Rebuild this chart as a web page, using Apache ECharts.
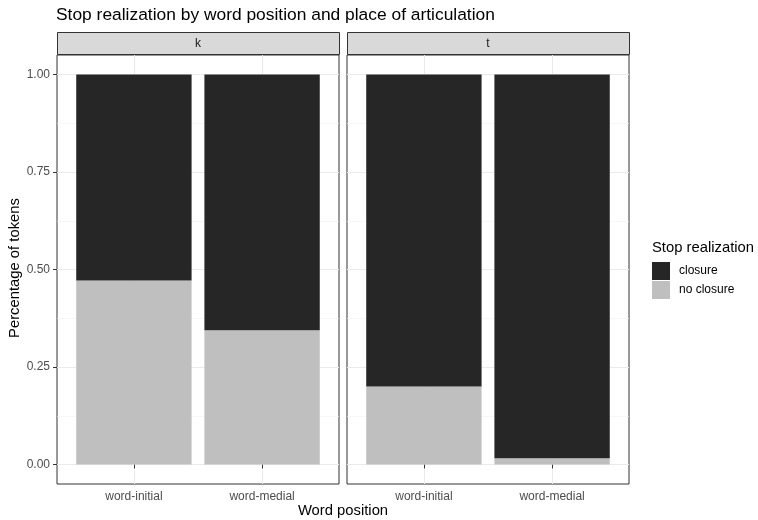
<!DOCTYPE html>
<html>
<head>
<meta charset="utf-8">
<script src="https://cdn.jsdelivr.net/npm/echarts@6/dist/echarts.min.js"></script>
<style>html,body{margin:0;padding:0;background:#fff}#c{width:758px;height:520px}</style>
</head>
<body>
<div id="c"></div>
<script>
var panels = ['k', 't'];
var categories = ['word-initial', 'word-medial'];
var noClosure = [[0.472, 0.344], [0.200, 0.016]];
var closure = [[0.528, 0.656], [0.800, 0.984]];
var yTicks = [0, 0.25, 0.5, 0.75, 1];
var yTickLabels = ['0.00', '0.25', '0.50', '0.75', '1.00'];
var yMinor = [0.125, 0.375, 0.625, 0.875];
var seriesNames = ['closure', 'no closure'];
var colors = {'closure': '#262626', 'no closure': '#BFBFBF'};

(function () {
var FONT = 'Liberation Sans, Arial, sans-serif';
var chart = echarts.init(document.getElementById('c'), null, {renderer: 'canvas'});

var panelLefts = [57, 347];
var panelWidth = 282;
var gTop = 55, gBottom = 36;

var grids = [], xAxes = [], yAxes = [], series = [], graphics = [];
panels.forEach(function (p, i) {
  grids.push({left: panelLefts[i], width: panelWidth, top: gTop, bottom: gBottom,
    show: true, borderColor: '#333333', borderWidth: 1, backgroundColor: '#fff', containLabel: false});
  xAxes.push({type: 'value', gridIndex: i, min: 0.4, max: 2.6,
    axisLine: {show: false},
    axisTick: {show: true, length: 4, lineStyle: {color: '#333333', width: 1}, customValues: [1, 2]},
    axisLabel: {show: true, customValues: [1, 2], color: '#4D4D4D', fontSize: 12, fontFamily: FONT, margin: 7,
      formatter: function (v) { return categories[Math.round(v) - 1] || ''; }},
    splitLine: {show: true, lineStyle: {color: '#EBEBEB', width: 1}}
  });
  yAxes.push({type: 'value', gridIndex: i, min: -0.05, max: 1.05,
    axisLine: {show: false},
    axisTick: {show: i === 0, length: 4, lineStyle: {color: '#333333', width: 1}, customValues: yTicks},
    axisLabel: {show: i === 0, customValues: yTicks, color: '#4D4D4D', fontSize: 12, fontFamily: FONT, margin: 7,
      formatter: function (v) { var k = yTicks.indexOf(v); return k >= 0 ? yTickLabels[k] : ''; }},
    splitLine: {show: true, lineStyle: {color: '#EBEBEB', width: 1}}
  });
  yAxes.push({type: 'value', gridIndex: i, min: -0.05, max: 1.05, position: 'left',
    axisLine: {show: false}, axisTick: {show: false, customValues: yMinor},
    axisLabel: {show: false, customValues: yMinor},
    splitLine: {show: true, lineStyle: {color: '#F2F2F2', width: 0.6}}
  });
  var ni = noClosure[i], ci = closure[i];
  series.push({name: 'no closure', type: 'bar', xAxisIndex: i, yAxisIndex: 2 * i, stack: 's' + i,
    barWidth: '90%', itemStyle: {color: colors['no closure']}, silent: true,
    encode: {x: 1, y: 0},
    data: categories.map(function (c, j) { return [ni[j], j + 1]; })});
  series.push({name: 'closure', type: 'bar', xAxisIndex: i, yAxisIndex: 2 * i, stack: 's' + i,
    barWidth: '90%', itemStyle: {color: colors['closure']}, silent: true,
    encode: {x: 1, y: 0},
    data: categories.map(function (c, j) { return [ci[j], j + 1]; })});
  graphics.push({type: 'rect', shape: {x: panelLefts[i] + 0.5, y: 32.5, width: panelWidth, height: 22},
    style: {fill: '#D9D9D9', stroke: '#333333', lineWidth: 1}, z: 10});
  graphics.push({type: 'text', x: panelLefts[i] + panelWidth / 2, y: 44,
    style: {text: p, fill: '#1A1A1A', font: '12px ' + FONT, textAlign: 'center', textVerticalAlign: 'middle'}, z: 11});
});

graphics.push({type: 'text', x: 56, y: 15,
  style: {text: 'Stop realization by word position and place of articulation', fill: '#000',
    font: '17.4px ' + FONT, textAlign: 'left', textVerticalAlign: 'middle'}});
graphics.push({type: 'text', x: 343, y: 511,
  style: {text: 'Word position', fill: '#000', font: '14.8px ' + FONT, textAlign: 'center', textVerticalAlign: 'middle'}});
graphics.push({type: 'text', x: 15, y: 268, rotation: Math.PI / 2,
  style: {text: 'Percentage of tokens', fill: '#000', font: '14.8px ' + FONT, textAlign: 'center', textVerticalAlign: 'middle'}});
graphics.push({type: 'text', x: 652, y: 248,
  style: {text: 'Stop realization', fill: '#000', font: '14.8px ' + FONT, textAlign: 'left', textVerticalAlign: 'middle'}});

chart.setOption({
  animation: false,
  backgroundColor: '#fff',
  grid: grids,
  xAxis: xAxes,
  yAxis: yAxes,
  legend: {data: seriesNames, orient: 'vertical', left: 652, top: 262, itemWidth: 18, itemHeight: 18, itemGap: 1,
    icon: 'rect', padding: 0, selectedMode: false,
    textStyle: {color: '#000', fontSize: 12, fontFamily: FONT, padding: [0, 0, 0, 4]}},
  series: series,
  graphic: graphics
});
})();
</script>
</body>
</html>
